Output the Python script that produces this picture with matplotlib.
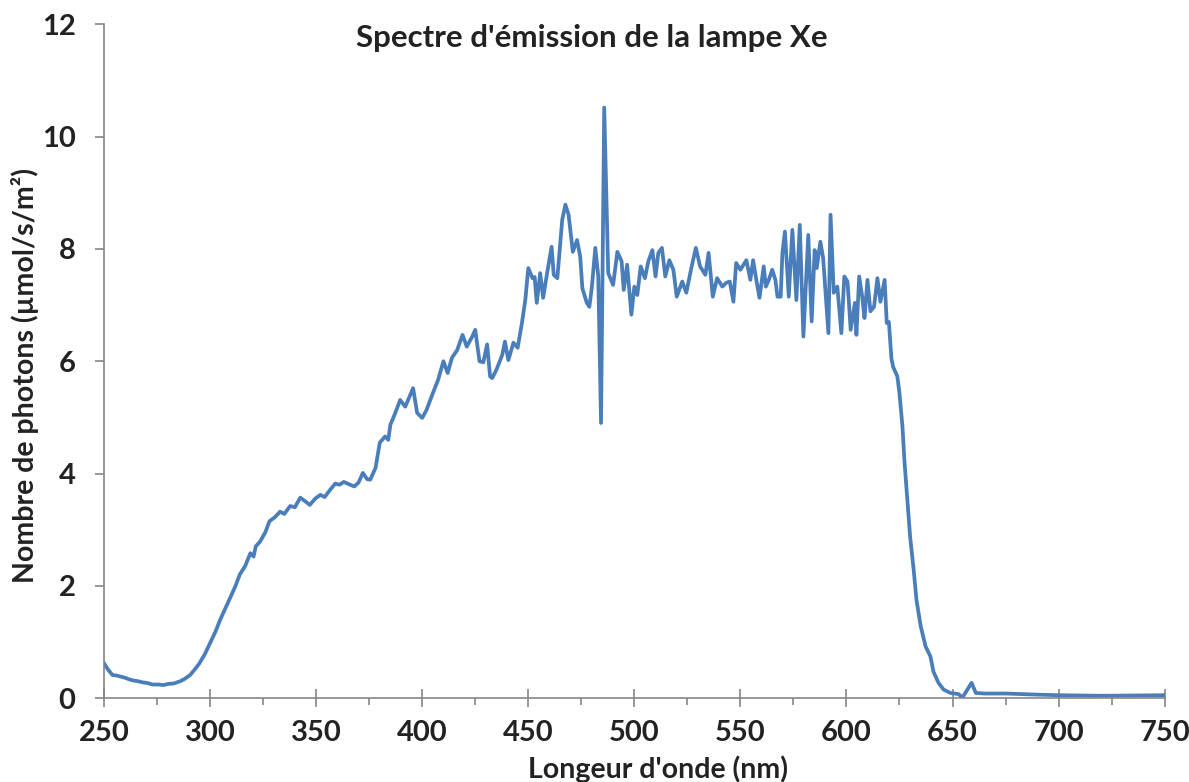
import matplotlib.pyplot as plt
from matplotlib.ticker import MultipleLocator

plt.rcParams['font.family'] = ['Lato', 'DejaVu Sans']

# longueur d'onde (nm) et nombre de photons
wl = [250, 252, 254, 256, 258, 260, 262, 264, 266, 268, 270, 273, 276, 278, 280, 283, 286, 288,
      290.6, 293, 295, 297.5, 300, 302.5, 304.7, 307, 309.4, 312, 314, 316.5, 319, 320.5, 321.5,
      323.6, 326, 328, 330.5, 333, 335, 337.7, 340, 342.5, 345, 347, 349.5, 352, 354, 356.6, 359,
      361, 363, 366, 368, 370, 372, 374, 375.5, 378, 380, 382.5, 384, 385, 387, 389.6, 392, 394,
      395.7, 397.6, 400, 402, 405, 407.5, 410, 412, 414, 416.5, 419, 421, 423.6, 425, 427, 428.8,
      430.6, 432, 433, 435, 437.7, 439, 440.6, 443, 445, 447, 448.6, 450, 452, 453, 454, 455.6,
      457, 459, 461, 462, 463.7, 466, 467.5, 469, 471, 473, 474.5, 475.5, 477.6, 478.8, 480,
      481.6, 483, 484.3, 485.8, 487.7, 490, 492, 494, 495, 496.6, 498.6, 500, 501.4, 503, 505,
      506.6, 508.5, 510, 511.3, 513, 514.6, 516.5, 518.4, 520, 522.6, 524.5, 526.7, 529, 531,
      533.5, 535, 537, 539, 541.5, 543.4, 545, 546.7, 548, 550, 552.8, 554.7, 556, 557.5, 559,
      561, 562, 563.4, 565, 566.5, 567.5, 569, 569.8, 571, 572.8, 574.5, 576.4, 578, 579.7, 582,
      583.6, 585, 586, 587.7, 589, 591.5, 592.5, 594, 595.7, 597.6, 599, 600.5, 602, 604, 604.7,
      606, 607.5, 608.5, 609.9, 611.3, 613, 614.6, 616, 618, 619, 620, 621.2, 622, 624, 625,
      626.4, 627.4, 628.8, 630, 631.7, 633, 635, 637.3, 639.6, 641, 643.4, 645.8, 649, 652.8,
      654.7, 657, 659, 661, 665, 675, 690, 700, 720, 750]
photons = [0.62, 0.50, 0.41, 0.40, 0.38, 0.36, 0.33, 0.31, 0.30, 0.28, 0.27, 0.24, 0.24, 0.23,
           0.25, 0.26, 0.30, 0.34, 0.41, 0.52, 0.62, 0.78, 0.98, 1.18, 1.39, 1.58, 1.78, 2.00,
           2.20, 2.35, 2.58, 2.52, 2.70, 2.79, 2.95, 3.15, 3.22, 3.32, 3.28, 3.42, 3.40, 3.57,
           3.50, 3.44, 3.55, 3.62, 3.58, 3.71, 3.82, 3.80, 3.85, 3.80, 3.77, 3.84, 4.01, 3.90,
           3.89, 4.10, 4.55, 4.66, 4.60, 4.87, 5.05, 5.31, 5.19, 5.37, 5.52, 5.08, 4.99, 5.13,
           5.43, 5.67, 6.00, 5.79, 6.06, 6.20, 6.47, 6.26, 6.44, 6.56, 6.00, 5.98, 6.30, 5.73,
           5.70, 5.85, 6.11, 6.35, 6.02, 6.33, 6.24, 6.68, 7.09, 7.66, 7.48, 7.50, 7.04, 7.57,
           7.13, 7.60, 8.04, 7.54, 7.48, 8.52, 8.79, 8.61, 7.95, 8.16, 7.86, 7.30, 7.04, 6.97,
           7.33, 8.02, 7.51, 4.90, 10.52, 7.57, 7.36, 7.95, 7.78, 7.27, 7.72, 6.83, 7.33, 7.18,
           7.69, 7.48, 7.78, 7.98, 7.51, 7.93, 8.02, 7.51, 7.80, 7.63, 7.15, 7.42, 7.22, 7.63,
           8.02, 7.69, 7.54, 7.93, 7.15, 7.48, 7.33, 7.40, 7.42, 7.06, 7.75, 7.63, 7.80, 7.45,
           7.80, 7.45, 7.13, 7.69, 7.33, 7.45, 7.63, 7.45, 7.15, 7.15, 7.93, 8.31, 7.15, 8.34,
           7.09, 8.43, 6.44, 8.25, 6.71, 7.98, 7.66, 8.13, 7.84, 6.50, 8.61, 7.22, 7.33, 6.50,
           7.51, 7.42, 6.56, 7.04, 6.47, 7.51, 7.13, 6.77, 7.45, 6.89, 6.97, 7.48, 7.06, 7.45,
           6.68, 6.70, 6.05, 5.90, 5.73, 5.43, 4.84, 4.19, 3.48, 2.88, 2.28, 1.75, 1.28, 0.92,
           0.74, 0.47, 0.27, 0.15, 0.09, 0.07, 0.01, 0.15, 0.27, 0.09, 0.08, 0.08, 0.06, 0.05,
           0.04, 0.05]

fig = plt.figure(figsize=(11.89, 7.82), dpi=100)
ax = fig.add_axes([0.0875, 0.1074, 0.892, 0.8613])

ax.plot(wl, photons, color='#4a7ebb', lw=2.7)

ax.set_xlim(250, 750)
ax.set_ylim(0, 12)
ax.xaxis.set_major_locator(MultipleLocator(50))
ax.xaxis.set_minor_locator(MultipleLocator(25))
ax.yaxis.set_major_locator(MultipleLocator(2))

grey = '#868686'
for s in ['top', 'right']:
    ax.spines[s].set_visible(False)
for s in ['left', 'bottom']:
    ax.spines[s].set_color(grey)
    ax.spines[s].set_linewidth(1.2)

ax.tick_params(axis='x', which='major', direction='inout', length=13, width=1.2,
               color=grey, labelsize=21, pad=9)
ax.tick_params(axis='x', which='minor', direction='out', length=5, width=1.2, color=grey)
ax.tick_params(axis='y', direction='out', length=6.5, width=1.2, color=grey,
               labelsize=21, pad=14)
for lab in ax.get_xticklabels() + ax.get_yticklabels():
    lab.set_fontweight('bold')
    lab.set_color('#222222')

fig.text(0.498, 0.951, "Spectre d'émission de la lampe Xe", ha='center', va='center',
         fontsize=22.5, fontweight='bold', color='#222222')
fig.text(0.553, 0.017, "Longeur d'onde (nm)", ha='center', va='center',
         fontsize=20.5, fontweight='bold', color='#222222')
fig.text(0.021, 0.52, "Nombre de photons (µmol/s/m²)", ha='center', va='center',
         rotation=90, fontsize=20.5, fontweight='bold', color='#222222')

fig.savefig('out.png', dpi=100)
